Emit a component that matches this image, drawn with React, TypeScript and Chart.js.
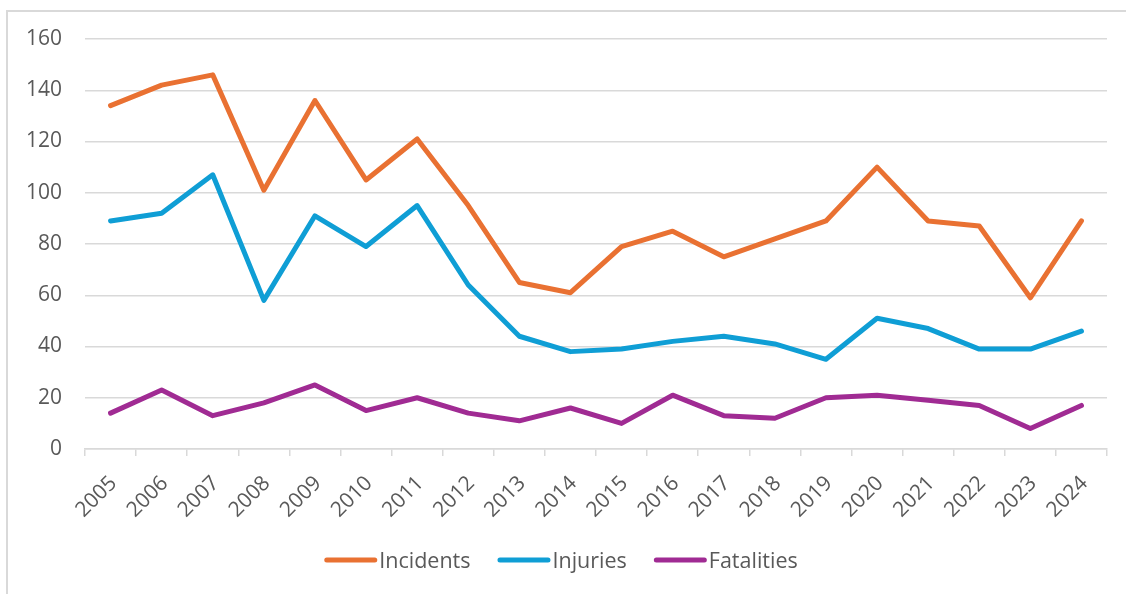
import React, { useEffect, useRef } from "react";
import { Chart, registerables } from "chart.js";

Chart.register(...registerables);

const years = ["2005", "2006", "2007", "2008", "2009", "2010", "2011", "2012", "2013", "2014", "2015", "2016", "2017", "2018", "2019", "2020", "2021", "2022", "2023", "2024"];
const incidents = [134, 142, 146, 101, 136, 105, 121, 95, 65, 61, 79, 85, 75, 82, 89, 110, 89, 87, 59, 89];
const injuries = [89, 92, 107, 58, 91, 79, 95, 64, 44, 38, 39, 42, 44, 41, 35, 51, 47, 39, 39, 46];
const fatalities = [14, 23, 13, 18, 25, 15, 20, 14, 11, 16, 10, 21, 13, 12, 20, 21, 19, 17, 8, 17];
const seriesNames = ["Incidents", "Injuries", "Fatalities"];
const seriesColors = ["#E97132", "#0F9ED5", "#A02B93"];
const yMin = 0;
const yMax = 160;
const yStep = 20;

const FONT = "'Open Sans', sans-serif";
const TEXT = "#595959";
const GRID = "#d9d9d9";
const FONT_SIZE = 21;

const bottomLegend = {
  id: "bottomLegend",
  afterDraw(chart: any) {
    const ctx = chart.ctx;
    const items = chart.data.datasets.map((d: any) => ({ label: d.label, color: d.borderColor }));
    ctx.save();
    ctx.font = `21.5px ${FONT}`;
    const lineLen = 48;
    const cap = 2.5;
    const gapText = 2;
    const gapItem = 27;
    const widths = items.map((it: any) => cap * 2 + lineLen + gapText + ctx.measureText(it.label).width);
    const total = widths.reduce((a: number, b: number) => a + b, 0) + gapItem * (items.length - 1);
    let x = chart.width / 2 - 2 - total / 2;
    const y = 560;
    items.forEach((it: any, i: number) => {
      ctx.beginPath();
      ctx.strokeStyle = it.color;
      ctx.lineWidth = 5;
      ctx.lineCap = "round";
      ctx.moveTo(x + cap, y);
      ctx.lineTo(x + cap + lineLen, y);
      ctx.stroke();
      ctx.fillStyle = TEXT;
      ctx.textBaseline = "alphabetic";
      ctx.textAlign = "left";
      ctx.fillText(it.label, x + cap * 2 + lineLen + gapText, y + 7.5);
      x += widths[i] + gapItem;
    });
    ctx.restore();
  },
};

function LineChart() {
  const ref = useRef<HTMLCanvasElement | null>(null);
  useEffect(() => {
    if (!ref.current) return;
    const values = [incidents, injuries, fatalities];
    const chart = new Chart(ref.current, {
      type: "line",
      data: {
        labels: years,
        datasets: values.map((v, i) => ({
          label: seriesNames[i],
          data: v,
          borderColor: seriesColors[i],
          backgroundColor: seriesColors[i],
          borderWidth: 5,
          borderCapStyle: "round",
          borderJoinStyle: "round",
          pointRadius: 0,
          pointHoverRadius: 0,
          tension: 0,
          fill: false,
        })),
      },
      options: {
        animation: false,
        responsive: true,
        maintainAspectRatio: false,
        layout: { padding: { top: 39, right: 19, left: 0, bottom: 0 } },
        plugins: {
          legend: { display: false },
          tooltip: { enabled: false },
          title: { display: false },
        },
        scales: {
          x: {
            offset: true,
            grid: {
              offset: true,
              display: true,
              drawOnChartArea: false,
              drawTicks: true,
              tickLength: 7,
              color: GRID,
              lineWidth: 1.5,
            },
            border: { display: true, color: GRID, width: 1.5 },
            ticks: {
              color: TEXT,
              font: { family: FONT, size: FONT_SIZE },
              minRotation: 45,
              maxRotation: 45,
              autoSkip: false,
              padding: 15,
              labelOffset: 3,
            },
            afterFit(scale: any) {
              scale.height = 145;
            },
          },
          y: {
            min: yMin,
            max: yMax,
            grid: { color: GRID, lineWidth: 1.5, drawTicks: false },
            border: { display: false },
            ticks: {
              stepSize: yStep,
              color: TEXT,
              font: { family: FONT, size: FONT_SIZE },
              padding: 23,
            },
            afterFit(scale: any) {
              scale.width = 85;
            },
          },
        },
      },
      plugins: [bottomLegend],
    });
    return () => chart.destroy();
  }, []);
  return <canvas ref={ref} style={{ display: "block" }} />;
}

export default function App() {
  return (
    <div style={{ position: "fixed", left: 0, top: 0, width: 1126, height: 594, background: "#fff", overflow: "hidden" }}>
      <div
        style={{
          position: "absolute",
          left: 6,
          top: 10,
          right: -4,
          bottom: -10,
          borderLeft: `2px solid ${GRID}`,
          borderTop: `2px solid ${GRID}`,
          pointerEvents: "none",
        }}
      />
      <div style={{ position: "absolute", left: 0, top: 0, width: 1126, height: 594 }}>
        <LineChart />
      </div>
    </div>
  );
}
